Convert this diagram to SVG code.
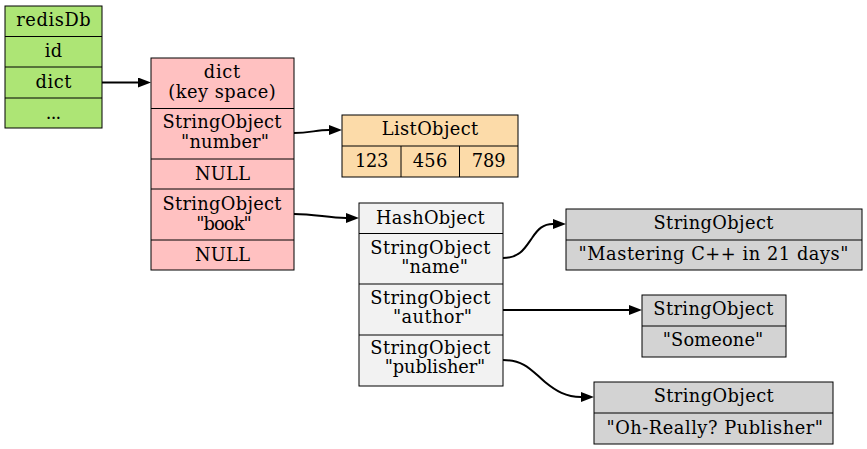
<svg xmlns="http://www.w3.org/2000/svg" width="867" height="449" viewBox="0 0 867 449">
<style>
text{font-family:"DejaVu Serif","Liberation Serif",serif;font-size:17.8px;fill:#000;text-anchor:middle}
.box{stroke:#000;stroke-width:1}
.ln{stroke:#000;stroke-width:1;fill:none}
.edge{stroke:#000;stroke-width:2;fill:none;marker-end:url(#ah)}
</style>
<defs>
<marker id="ah" markerUnits="userSpaceOnUse" markerWidth="14" markerHeight="11" refX="0" refY="5" orient="auto">
<path d="M0,0 L13,5 L0,10 Z" fill="#000"/>
</marker>
</defs>
<g id="redisDb">
<rect class="box" x="5" y="6" width="97" height="122" fill="#ade575"/>
<path class="ln" d="M5,36.5H102M5,67H102M5,98H102"/>
<text x="53.5" y="26" textLength="74.5">redisDb</text>
<text x="53.5" y="57" textLength="17.5">id</text>
<text x="53.5" y="87.5" textLength="36">dict</text>
<text x="53.5" y="118.5" textLength="15.5">...</text>
</g>
<g id="dict">
<rect class="box" x="151" y="58" width="143" height="212" fill="#ffc1c1"/>
<path class="ln" d="M151,108.5H294M151,159H294M151,189H294M151,240H294"/>
<text x="222" y="78" textLength="36.5">dict</text>
<text x="222" y="97.5" textLength="107.5">(key space)</text>
<text x="222" y="128" textLength="119">StringObject</text>
<text x="225" y="147.5" textLength="88">"number"</text>
<text x="222.5" y="179.5" textLength="55">NULL</text>
<text x="222" y="210" textLength="119">StringObject</text>
<text x="224" y="229.5" textLength="55.5">"book"</text>
<text x="222.5" y="261" textLength="55">NULL</text>
</g>
<g id="listObject">
<rect class="box" x="342" y="115" width="176" height="62" fill="#fcdba9"/>
<path class="ln" d="M342,146H518M401,146V177M459.5,146V177"/>
<text x="430" y="135" textLength="96.5">ListObject</text>
<text x="371.7" y="167" textLength="33.3">123</text>
<text x="430" y="167" textLength="34.5">456</text>
<text x="488.7" y="167" textLength="34">789</text>
</g>
<g id="hashObject">
<rect class="box" x="359" y="203" width="144" height="183" fill="#f2f2f2"/>
<path class="ln" d="M359,233.5H503M359,284H503M359,335H503"/>
<text x="430.3" y="223.7" textLength="108.5">HashObject</text>
<text x="430.3" y="254" textLength="120">StringObject</text>
<text x="434.6" y="273.2" textLength="66.7">"name"</text>
<text x="430.3" y="303.5" textLength="120">StringObject</text>
<text x="432.5" y="323" textLength="79">"author"</text>
<text x="430.3" y="354" textLength="120">StringObject</text>
<text x="435" y="373" textLength="100.5">"publisher"</text>
</g>
<g id="strName">
<rect class="box" x="566" y="209" width="296" height="61" fill="#d3d3d3"/>
<path class="ln" d="M566,240H862"/>
<text x="713.5" y="229" textLength="120">StringObject</text>
<text x="713.5" y="260" textLength="270">"Mastering C++ in 21 days"</text>
</g>
<g id="strAuthor">
<rect class="box" x="642" y="295" width="144" height="62" fill="#d3d3d3"/>
<path class="ln" d="M642,326H786"/>
<text x="713.3" y="314.7" textLength="120">StringObject</text>
<text x="713" y="346.3" textLength="100.5">"Someone"</text>
</g>
<g id="strPublisher">
<rect class="box" x="594" y="382" width="239" height="62" fill="#d3d3d3"/>
<path class="ln" d="M594,413H833"/>
<text x="713.7" y="402.3" textLength="120">StringObject</text>
<text x="714.7" y="434" textLength="216.5">"Oh-Really? Publisher"</text>
</g>
<g id="connectors">
<path class="edge" d="M102,82.5H138"/>
<path class="edge" d="M294,133C310,133 316,130 329,130"/>
<path class="edge" d="M294,214C315,214 328,218 346,218"/>
<path class="edge" d="M503,258C520,258 525,248 532,238C538,229 543,224 553,224"/>
<path class="edge" d="M503,310H629"/>
<path class="edge" d="M503,360C525,360 532,371 545,382C556,391 566,397 581,397"/>
</g>
</svg>
